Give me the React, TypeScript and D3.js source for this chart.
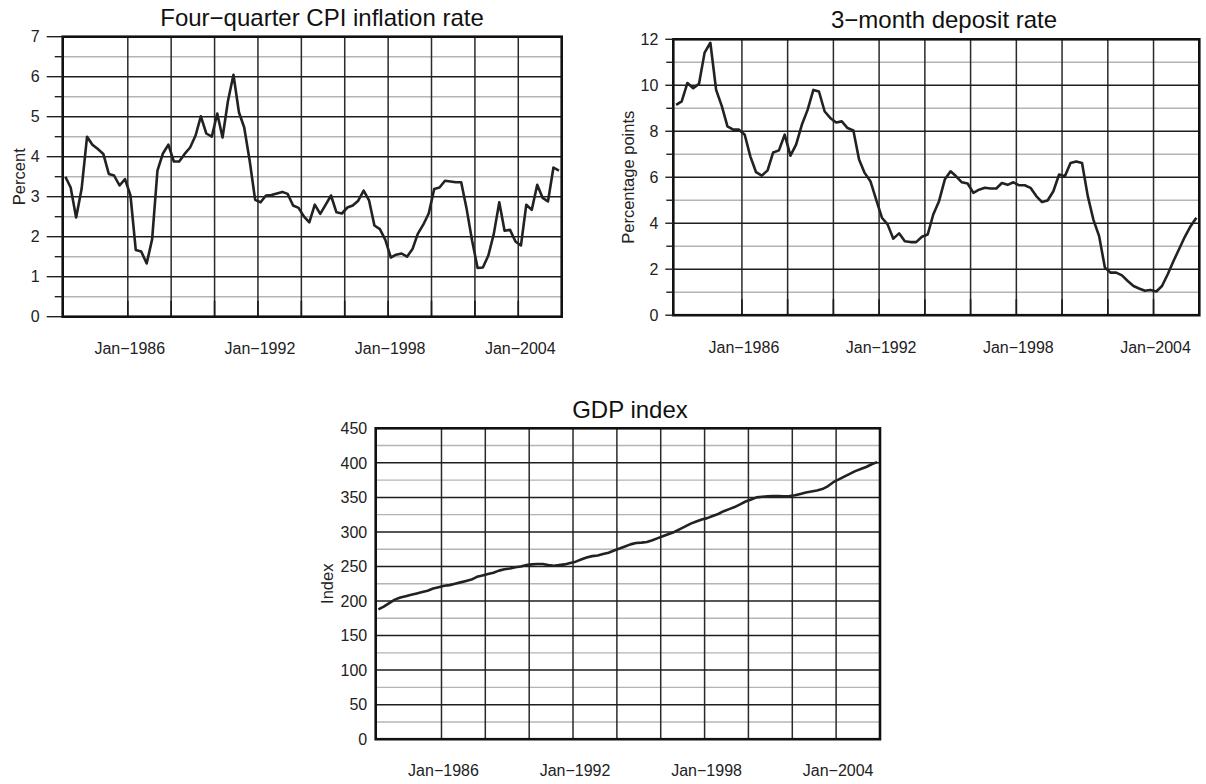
import React from 'react';
import * as d3 from 'd3';

// quarterly observations, 1983Q1 .. 2005Q4 (plotted mid-quarter)
const years = d3.range(1983, 2006);
const quarterDates = years.flatMap((yr) => [1, 4, 7, 10].map((m) => new Date(yr, m, 15)));

const cpiInflation = [
  3.5, 3.23, 2.48, 3.19,
  4.5, 4.3, 4.19, 4.07,
  3.57, 3.53, 3.28, 3.44,
  3.03, 1.67, 1.63, 1.33,
  1.94, 3.65, 4.08, 4.3,
  3.88, 3.88, 4.07, 4.23,
  4.53, 5.01, 4.58, 4.5,
  5.08, 4.48, 5.4, 6.05,
  5.11, 4.73, 3.9, 2.92,
  2.86, 3.03, 3.04, 3.08,
  3.12, 3.07, 2.78, 2.72,
  2.5, 2.36, 2.8, 2.57,
  2.8, 3.03, 2.61, 2.58,
  2.73, 2.78, 2.9, 3.15,
  2.9, 2.28, 2.19, 1.92,
  1.48, 1.55, 1.58, 1.5,
  1.69, 2.07, 2.3, 2.58,
  3.19, 3.23, 3.4, 3.38,
  3.36, 3.36, 2.69, 1.9,
  1.22, 1.23, 1.53, 2.07,
  2.86, 2.15, 2.17, 1.88,
  1.78, 2.8, 2.67, 3.3,
  2.97, 2.88, 3.73, 3.65
];

const depositRate = [
  9.15, 9.3, 10.1, 9.87,
  10.06, 11.42, 11.85, 9.8,
  9.08, 8.21, 8.07, 8.07,
  7.85, 6.91, 6.22, 6.07,
  6.3, 7.08, 7.17, 7.85,
  6.94, 7.42, 8.28, 8.93,
  9.8, 9.73, 8.86, 8.57,
  8.38, 8.43, 8.14, 8.04,
  6.77, 6.19, 5.83, 5.03,
  4.24, 3.95, 3.33, 3.56,
  3.22, 3.18, 3.18, 3.41,
  3.51, 4.38, 4.96, 5.9,
  6.26, 6.04, 5.78, 5.73,
  5.32, 5.46, 5.54, 5.51,
  5.51, 5.75, 5.67, 5.78,
  5.65, 5.65, 5.54, 5.18,
  4.92, 4.99, 5.39, 6.12,
  6.04, 6.62, 6.69, 6.62,
  5.18, 4.16, 3.44, 2.07,
  1.85, 1.85, 1.73, 1.49,
  1.27, 1.16, 1.06, 1.1,
  1.03, 1.27, 1.78, 2.36,
  2.89, 3.41, 3.87, 4.24
];

const gdpIndex = [
  188, 192, 197, 202,
  205, 207, 209, 211,
  213, 215, 218, 220,
  222, 223, 225, 227,
  229, 231, 235, 237,
  239, 241, 244, 246,
  247, 249, 250, 252,
  253, 253.5, 253.5, 252,
  251, 252, 253, 255,
  257, 260, 263, 265,
  266, 268, 270, 273,
  276, 279, 282, 284,
  284.5, 285.5, 288, 291,
  294, 297, 300, 304,
  308, 312, 315, 318,
  320, 323, 326, 330,
  333, 336, 340, 344,
  347, 350, 351, 351.5,
  352, 352, 351.5, 352,
  353, 355, 357, 358.5,
  360, 362, 366, 372,
  376, 380, 384, 388,
  391, 394, 398, 401
];

const xGridYears = d3.range(1986, 2005, 2);
const xLabelYears = [1986, 1992, 1998, 2004];
const xLabels = ['Jan\u22121986', 'Jan\u22121992', 'Jan\u22121998', 'Jan\u22122004'];

const FONT = '"Liberation Sans", Arial, Helvetica, sans-serif';

interface Panel {
  title: string;
  yLabel: string;
  values: number[];
  yMax: number;
  step: number;
  left: number;
  right: number;
  top: number;
  bottom: number;
  titleX: number;
  titleY: number;
  yLabelX: number;
  majorTick: number;
  minorTick: number;
  labelGap: number;
  xLabelY: number;
  innerTicks: boolean;
}

const panels: Panel[] = [
  {
    title: 'Four\u2212quarter CPI inflation rate', yLabel: 'Percent', values: cpiInflation,
    yMax: 7, step: 1, left: 62.7, right: 561.7, top: 36.7, bottom: 316.7,
    titleX: 322, titleY: 26, yLabelX: 25, majorTick: 16, minorTick: 8, labelGap: 23,
    xLabelY: 354, innerTicks: true
  },
  {
    title: '3\u2212month deposit rate', yLabel: 'Percentage points', values: depositRate,
    yMax: 12, step: 2, left: 673.3, right: 1199.3, top: 39.3, bottom: 315.2,
    titleX: 944, titleY: 28.3, yLabelX: 633.5, majorTick: 8, minorTick: 7, labelGap: 15,
    xLabelY: 353, innerTicks: true
  },
  {
    title: 'GDP index', yLabel: 'Index', values: gdpIndex,
    yMax: 450, step: 50, left: 375.7, right: 880, top: 428.3, bottom: 739.2,
    titleX: 630, titleY: 418.3, yLabelX: 333.3, majorTick: 0, minorTick: 0, labelGap: 8.5,
    xLabelY: 775.7, innerTicks: false
  }
];

const App: React.FC = () => {
  const ref = React.useRef<SVGSVGElement>(null);

  React.useEffect(() => {
    const svg = d3.select(ref.current);
    svg.selectAll('*').remove();

    panels.forEach((p) => {
      const x = d3.scaleTime()
        .domain([new Date(1983, 0, 1), new Date(2006, 0, 1)])
        .range([p.left, p.right]);
      const y = d3.scaleLinear().domain([0, p.yMax]).range([p.bottom, p.top]);
      const g = svg.append('g').style('font-family', FONT);

      const majors = d3.range(0, p.yMax + p.step / 2, p.step);
      const minors = d3.range(p.step / 2, p.yMax, p.step);

      // light minor gridlines
      g.selectAll('line.minor').data(minors).enter().append('line')
        .attr('x1', p.left).attr('x2', p.right)
        .attr('y1', (d) => y(d)).attr('y2', (d) => y(d))
        .attr('stroke', '#b4b4b4').attr('stroke-width', 1.4);

      // vertical gridlines every two years
      g.selectAll('line.vgrid').data(xGridYears).enter().append('line')
        .attr('x1', (d) => x(new Date(d, 0, 1))).attr('x2', (d) => x(new Date(d, 0, 1)))
        .attr('y1', p.top).attr('y2', p.bottom)
        .attr('stroke', '#2a2a2a').attr('stroke-width', 1.5);

      if (p.innerTicks) {
        g.selectAll('line.itick').data(xGridYears).enter().append('line')
          .attr('x1', (d) => x(new Date(d, 0, 1))).attr('x2', (d) => x(new Date(d, 0, 1)))
          .attr('y1', p.bottom - 16).attr('y2', p.bottom)
          .attr('stroke', '#1a1a1a').attr('stroke-width', 1.6);
      }

      // major horizontal gridlines
      g.selectAll('line.major').data(majors).enter().append('line')
        .attr('x1', p.left).attr('x2', p.right)
        .attr('y1', (d) => y(d)).attr('y2', (d) => y(d))
        .attr('stroke', '#1e1e1e').attr('stroke-width', 1.5);

      // series
      g.append('path')
        .datum(p.values)
        .attr('fill', 'none')
        .attr('stroke', '#222')
        .attr('stroke-width', 2.6)
        .attr('stroke-linejoin', 'round')
        .attr('d', d3.line<number>()
          .x((_, i) => x(quarterDates[i]))
          .y((d) => y(d)));

      // frame
      g.append('rect')
        .attr('x', p.left).attr('y', p.top)
        .attr('width', p.right - p.left).attr('height', p.bottom - p.top)
        .attr('fill', 'none').attr('stroke', '#111').attr('stroke-width', 2.6);

      // outer y ticks
      if (p.majorTick > 0) {
        g.selectAll('line.ytick').data(majors).enter().append('line')
          .attr('x1', p.left - p.majorTick).attr('x2', p.left)
          .attr('y1', (d) => y(d)).attr('y2', (d) => y(d))
          .attr('stroke', '#222').attr('stroke-width', 1.4);
        g.selectAll('line.ytickm').data(minors).enter().append('line')
          .attr('x1', p.left - p.minorTick).attr('x2', p.left)
          .attr('y1', (d) => y(d)).attr('y2', (d) => y(d))
          .attr('stroke', '#222').attr('stroke-width', 1.4);
      }

      g.selectAll('text.ylab').data(majors).enter().append('text')
        .attr('x', p.left - p.labelGap)
        .attr('y', (d) => y(d))
        .attr('dy', '0.36em')
        .attr('text-anchor', 'end')
        .attr('font-size', 16)
        .attr('fill', '#222')
        .text((d) => String(d));

      g.selectAll('text.xlab').data(xLabelYears).enter().append('text')
        .attr('x', (d) => x(new Date(d, 0, 1)) + 2)
        .attr('y', p.xLabelY)
        .attr('text-anchor', 'middle')
        .attr('font-size', 16)
        .attr('fill', '#222')
        .text((_, i) => xLabels[i]);

      g.append('text')
        .attr('x', p.titleX).attr('y', p.titleY)
        .attr('text-anchor', 'middle')
        .attr('font-size', 24)
        .attr('fill', '#111')
        .text(p.title);

      g.append('text')
        .attr('transform', `translate(${p.yLabelX},${(p.top + p.bottom) / 2}) rotate(-90)`)
        .attr('text-anchor', 'middle')
        .attr('font-size', 16.5)
        .attr('fill', '#222')
        .text(p.yLabel);
    });
  }, []);

  return (
    <svg
      ref={ref}
      width={1206}
      height={784}
      style={{ position: 'fixed', left: 0, top: 0, background: '#fff' }}
    />
  );
};

export default App;
